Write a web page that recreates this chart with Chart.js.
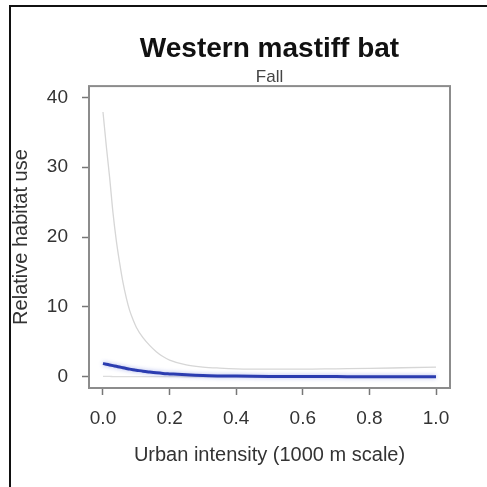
<!DOCTYPE html>
<html>
<head>
<meta charset="utf-8">
<script src="https://cdn.jsdelivr.net/npm/chart.js@4/dist/chart.umd.min.js"></script>
<style>
  html, body { margin: 0; padding: 0; background: #fff; }
  #wrap { position: relative; width: 487px; height: 487px; }
  #frame { position: absolute; left: 9px; top: 5px; right: 0; bottom: 0;
           border-left: 2px solid #111; border-top: 2px solid #111; pointer-events: none; }
  canvas { position: absolute; left: 0; top: 0; }
</style>
</head>
<body>
<div id="wrap">
  <canvas id="c" width="487" height="487"></canvas>
  <div id="frame"></div>
</div>
<script>
// Urban intensity (1000 m scale) sample positions
const urbanIntensity = [0, 0.01, 0.02, 0.03, 0.04, 0.05, 0.06, 0.07, 0.08, 0.09, 0.10,
  0.12, 0.14, 0.16, 0.18, 0.20, 0.25, 0.30, 0.35, 0.40, 0.50, 0.60, 0.70, 0.80, 0.90, 1.00];

// Predicted relative habitat use (mean)
const meanUse = [1.9, 1.8, 1.7, 1.6, 1.5, 1.4, 1.3, 1.2, 1.1, 1.02, 0.95,
  0.8, 0.68, 0.57, 0.48, 0.42, 0.28, 0.18, 0.13, 0.10, 0.06, 0.04, 0.03, 0.02, 0.015, 0.01];

// Upper confidence bound
const upperUse = [37.9, 33, 28.5, 23.5, 19.5, 16.3, 13.5, 11.3, 9.5, 8.2, 7.1,
  5.6, 4.5, 3.6, 2.9, 2.4, 1.7, 1.4, 1.25, 1.15, 1.1, 1.1, 1.15, 1.2, 1.3, 1.4];

// Lower confidence bound
const lowerUse = [0.05, 0.05, 0.05, 0.04, 0.04, 0.04, 0.03, 0.03, 0.03, 0.03, 0.03,
  0.02, 0.02, 0.02, 0.02, 0.02, 0.01, 0.01, 0.01, 0.01, 0, 0, 0, 0, 0, 0];

const xTicks = [0, 0.2, 0.4, 0.6, 0.8, 1.0];
const yTicks = [0, 10, 20, 30, 40];

const toPoints = (ys) => urbanIntensity.map((x, i) => ({ x: x, y: ys[i] }));

const boxPlugin = {
  id: 'plotBox',
  afterDraw(chart) {
    const a = chart.chartArea, ctx = chart.ctx;
    ctx.save();
    ctx.strokeStyle = '#8c8c8c';
    ctx.lineWidth = 2;
    ctx.strokeRect(a.left, a.top, a.right - a.left, a.bottom - a.top);
    ctx.restore();
  }
};

const glowPlugin = {
  id: 'meanGlow',
  beforeDatasetDraw(chart, args) {
    if (args.meta.dataset && chart.data.datasets[args.index].label === 'Mean') {
      chart.ctx.save();
      chart.ctx.shadowColor = 'rgba(70, 90, 210, 0.45)';
      chart.ctx.shadowBlur = 4;
    }
  },
  afterDatasetDraw(chart, args) {
    if (args.meta.dataset && chart.data.datasets[args.index].label === 'Mean') {
      chart.ctx.restore();
    }
  }
};

const tickFont = { family: 'Liberation Sans, Arial, sans-serif', size: 19 };
const titleFont = { family: 'Liberation Sans, Arial, sans-serif', size: 20 };

new Chart(document.getElementById('c'), {
  type: 'line',
  data: {
    datasets: [
      { label: 'Mean', data: toPoints(meanUse), borderColor: '#2b3cb0', borderWidth: 3,
        pointRadius: 0, tension: 0.4, cubicInterpolationMode: 'monotone', order: 0 },
      { label: 'Upper', data: toPoints(upperUse), borderColor: '#d6d6d6', borderWidth: 1.3,
        pointRadius: 0, cubicInterpolationMode: 'monotone', order: 1 },
      { label: 'Lower', data: toPoints(lowerUse), borderColor: '#dcdcdc', borderWidth: 1.3,
        pointRadius: 0, cubicInterpolationMode: 'monotone', order: 2 }
    ]
  },
  options: {
    responsive: false,
    animation: false,
    events: [],
    layout: { padding: { top: 32, right: 37, bottom: 0, left: 0 } },
    plugins: {
      legend: { display: false },
      tooltip: { enabled: false },
      title: {
        display: true, fullSize: false, text: 'Western mastiff bat', color: '#111',
        font: { family: 'Liberation Sans, Arial, sans-serif', size: 28, weight: 'bold', lineHeight: 1.2 },
        padding: { top: 0, bottom: 3 }
      },
      subtitle: {
        display: true, fullSize: false, text: 'Fall', color: '#444',
        font: { family: 'Liberation Sans, Arial, sans-serif', size: 17, lineHeight: 1.0 },
        padding: { top: 0, bottom: 0.5 }
      }
    },
    scales: {
      x: {
        type: 'linear', min: -0.042, max: 1.042,
        afterBuildTicks(s) { s.ticks = xTicks.map(v => ({ value: v })); },
        afterFit(s) { s.height = 99; },
        grid: { drawOnChartArea: false, drawTicks: true, tickLength: 7, tickColor: '#777', tickWidth: 1.5 },
        border: { display: false },
        ticks: { color: '#333', font: tickFont, padding: 12, maxRotation: 0,
                 callback: (v) => Number(v).toFixed(1) },
        title: { display: true, text: 'Urban intensity (1000 m scale)', color: '#333',
                 font: titleFont, padding: { top: 0, bottom: 20 } }
      },
      y: {
        type: 'linear', min: -1.6, max: 41.6,
        afterBuildTicks(s) { s.ticks = yTicks.map(v => ({ value: v })); },
        afterFit(s) { s.width = 89; },
        grid: { drawOnChartArea: false, drawTicks: true, tickLength: 7, tickColor: '#777', tickWidth: 1.5 },
        border: { display: false },
        ticks: { color: '#333', font: tickFont, padding: 14 },
        title: { display: true, text: 'Relative habitat use', color: '#333',
                 font: titleFont, padding: { top: 9, bottom: 0 } }
      }
    }
  },
  plugins: [boxPlugin, glowPlugin]
});
</script>
</body>
</html>
